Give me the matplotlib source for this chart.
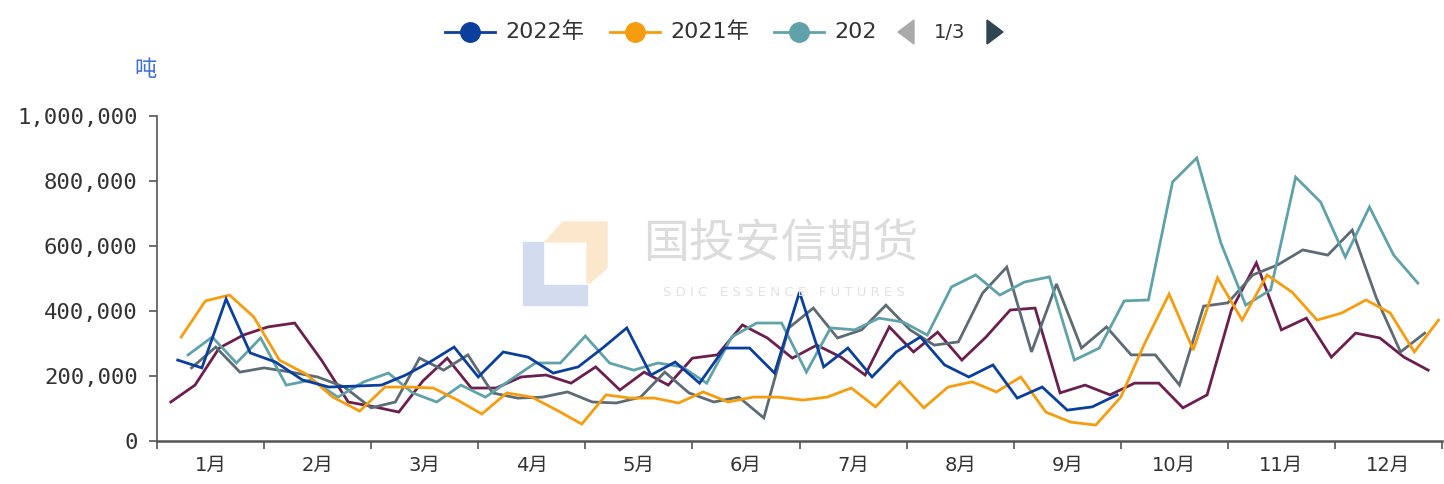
import numpy as np
import pandas as pd
import matplotlib
matplotlib.use('Agg')
import matplotlib.pyplot as plt
from matplotlib.lines import Line2D
from matplotlib.patches import Polygon
from matplotlib.ticker import FuncFormatter

plt.rcParams['font.family'] = ['DejaVu Sans', 'Noto Sans CJK SC']

# weekly figures (tonnes), one list per year, first friday of the year as start
months = ['1月', '2月', '3月', '4月', '5月', '6月', '7月', '8月', '9月', '10月', '11月', '12月']
y_ticks = [0, 200000, 400000, 600000, 800000, 1000000]

start_2022 = '2022-01-07'
v2022 = [249, 225, 437, 271, 243, 188, 166, 169, 172, 203, 243, 289, 197, 274, 258, 209, 228,
         286, 348, 203, 243, 178, 286, 286, 209, 458, 228, 286, 197, 274, 320, 234, 197, 234,
         132, 166, 95, 105, 142]

start_2021 = '2021-01-08'
v2021 = [320, 431, 449, 382, 249, 206, 135, 92, 166, 166, 163, 126, 83, 148, 135, 95, 52, 142,
         132, 132, 117, 151, 120, 135, 135, 126, 135, 163, 105, 182, 102, 166, 182, 151, 197, 89,
         58, 49, 135, 302, 452, 280, 502, 372, 511, 458, 372, 394, 434, 394, 274, 372]

start_2020 = '2020-01-10'
v2020 = [265, 320, 240, 317, 172, 188, 135, 182, 209, 148, 120, 172, 135, 188, 240, 240, 323,
         240, 218, 240, 228, 178, 320, 363, 363, 212, 348, 342, 378, 366, 326, 474, 511, 449, 489,
         505, 249, 286, 431, 434, 797, 871, 609, 418, 465, 812, 735, 566, 720, 572, 486]

start_2019 = '2019-01-11'
v2019 = [225, 289, 212, 225, 212, 197, 166, 102, 120, 255, 218, 265, 148, 132, 135, 151, 120,
         117, 135, 212, 148, 120, 135, 71, 348, 409, 317, 342, 418, 342, 295, 305, 455, 535, 274,
         483, 286, 351, 265, 265, 172, 415, 425, 511, 542, 588, 572, 649, 440, 274, 332]

start_2018 = '2018-01-05'
v2018 = [120, 172, 286, 326, 351, 363, 249, 120, 105, 89, 185, 255, 163, 163, 197, 203, 178,
         228, 157, 212, 172, 255, 265, 357, 317, 255, 295, 258, 203, 351, 274, 335, 249, 320, 403,
         409, 148, 172, 142, 178, 178, 102, 142, 403, 548, 342, 378, 258, 332, 317, 258, 218]

labels = ['2022年', '2021年', '2020年', '2019年', '2018年']
starts = [start_2022, start_2021, start_2020, start_2019, start_2018]
values = [v2022, v2021, v2020, v2019, v2018]
colors = ['#0b3f9d', '#f59d0e', '#5fa2a9', '#5d6b74', '#6c1f4e']


def month_pos(start, n):
    d = pd.date_range(start, periods=n, freq='7D')
    return (d.month - 1) + (d.day - 1) / d.days_in_month


W, H = 1444, 484
fig = plt.figure(figsize=(W / 100, H / 100), dpi=100)
fx = lambda px: px / W
fy = lambda py: 1 - py / H

ax = fig.add_axes([fx(157), fy(441), fx(1442) - fx(157), fy(116) - fy(441)])

# watermark
fig.patches.append(Polygon([(fx(523), fy(242)), (fx(543), fy(242)), (fx(543), fy(285)),
                            (fx(587), fy(285)), (fx(587), fy(305)), (fx(523), fy(305))],
                           closed=True, transform=fig.transFigure, color='#d3dbef', zorder=0))
fig.patches.append(Polygon([(fx(563), fy(222)), (fx(607), fy(222)), (fx(607), fy(268)),
                            (fx(590), fy(283)), (fx(587), fy(283)), (fx(587), fy(242)),
                            (fx(545), fy(242))],
                           closed=True, transform=fig.transFigure, color='#fbe8cc', zorder=0))
fig.text(fx(781), fy(244), '国投安信期货', fontsize=33, color='#dcdcdc', ha='center', va='center',
         family=['Noto Sans CJK SC'], zorder=0)
fig.text(fx(784), fy(293), 'S D I C   E S S E N C E   F U T U R E S', fontsize=9.5,
         color='#e2e2e2', ha='center', va='center', zorder=0)

for lab, st, vals, c in list(zip(labels, starts, values, colors))[::-1]:
    x = month_pos(st, len(vals))
    ax.plot(x, np.array(vals) * 1000, color=c, lw=2.0, solid_joinstyle='miter', label=lab)

ax.set_facecolor('none')
ax.set_xlim(0, 12)
ax.set_ylim(0, 1000000)
ax.set_xticks(range(13))
ax.set_xticklabels([])
ax.set_xticks(np.arange(12) + 0.5, minor=True)
ax.set_xticklabels(months, minor=True)
ax.tick_params(axis='x', which='major', length=6, width=1.2, color='#555555', direction='out')
ax.tick_params(axis='x', which='minor', length=0, pad=11, labelsize=14, labelcolor='#333333')
ax.set_yticks(y_ticks)
ax.yaxis.set_major_formatter(FuncFormatter(lambda v, p: f'{int(v):,}'))
ax.tick_params(axis='y', length=6, width=1.2, color='#555555', pad=8, labelsize=16,
               labelcolor='#333333')
for t in ax.get_yticklabels():
    t.set_family('DejaVu Sans Mono')
for s in ['top', 'right']:
    ax.spines[s].set_visible(False)
ax.spines['left'].set_color('#555555')
ax.spines['left'].set_linewidth(1.2)
ax.spines['bottom'].set_color('#555555')
ax.spines['bottom'].set_linewidth(1.8)

fig.text(fx(146), fy(70), '吨', fontsize=16, color='#3d6fd9', ha='center', va='center',
         family=['Noto Sans CJK SC'])

# legend (first page of three)
leg_y = 32
leg_items = [(445, '2022年', colors[0]), (610, '2021年', colors[1]), (774, '202', colors[2])]
for x0, txt, c in leg_items:
    fig.add_artist(Line2D([fx(x0), fx(x0 + 50)], [fy(leg_y), fy(leg_y)], color=c, lw=2,
                          transform=fig.transFigure))
    fig.add_artist(Line2D([fx(x0 + 25)], [fy(leg_y)], marker='o', ms=14, color=c,
                          transform=fig.transFigure))
    fig.text(fx(x0 + 60), fy(leg_y), txt, fontsize=16, color='#333333', va='center', ha='left')

fig.patches.append(Polygon([(fx(914), fy(20)), (fx(914), fy(44)), (fx(898), fy(32))],
                           closed=True, transform=fig.transFigure, color='#aaaaaa'))
fig.text(fx(950), fy(leg_y), '1/3', fontsize=14, color='#333333', va='center', ha='center')
fig.patches.append(Polygon([(fx(987), fy(20)), (fx(987), fy(44)), (fx(1003), fy(32))],
                           closed=True, transform=fig.transFigure, color='#2f4554'))

fig.savefig('out.png', dpi=100)
